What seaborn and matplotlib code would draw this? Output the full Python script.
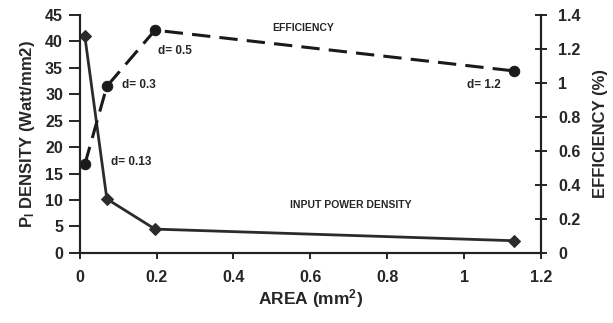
import matplotlib
matplotlib.use("Agg")
import matplotlib.pyplot as plt
import seaborn as sns

# 数据
area = [0.0133, 0.0707, 0.196, 1.131]
power_density = [41.0, 10.2, 4.5, 2.3]
efficiency = [0.52, 0.98, 1.31, 1.07]
d_labels = ["d= 0.13", "d= 0.3", "d= 0.5", "d= 1.2"]

sns.set_style("ticks")
plt.rcParams['font.family'] = ['Liberation Sans', 'DejaVu Sans']
plt.rcParams['font.weight'] = 'bold'
plt.rcParams['mathtext.fontset'] = 'custom'
plt.rcParams['mathtext.rm'] = 'Liberation Sans:bold'
plt.rcParams['mathtext.it'] = 'Liberation Sans:bold'
plt.rcParams['mathtext.bf'] = 'Liberation Sans:bold'

fig = plt.figure(figsize=(6.13, 3.23), dpi=100)
ax = fig.add_axes([0.130, 0.217, 0.7525, 0.737])
ax2 = ax.twinx()

line_col = '#2b2b2b'
sns.lineplot(x=area, y=power_density, ax=ax, color=line_col, lw=2.0,
             marker='D', markersize=6, markeredgecolor=line_col)
sns.lineplot(x=area, y=efficiency, ax=ax2, color='#1a1a1a', lw=2.2,
             linestyle=(0, (6, 3)), marker='o', markersize=7.5,
             markeredgecolor='#1a1a1a')

ax.set_xlim(0, 1.2)
ax.set_ylim(0, 45)
ax2.set_ylim(0, 1.4)
ax.set_xticks([0, 0.2, 0.4, 0.6, 0.8, 1.0, 1.2])
ax.set_xticklabels(['0', '0.2', '0.4', '0.6', '0.8', '1', '1.2'])
ax.set_yticks(range(0, 46, 5))
ax2.set_yticks([0, 0.2, 0.4, 0.6, 0.8, 1.0, 1.2, 1.4])
ax2.set_yticklabels(['0', '0.2', '0.4', '0.6', '0.8', '1', '1.2', '1.4'])

for a in (ax, ax2):
    a.spines['top'].set_visible(False)
    for s in a.spines.values():
        s.set_linewidth(1.5)
        s.set_color('#222222')
ax.tick_params(axis='y', direction='out', length=8, width=1.4, labelsize=11.5, pad=4)
ax.tick_params(axis='x', direction='out', length=4, width=1.4, labelsize=11.5, pad=8)
ax2.tick_params(axis='y', direction='inout', length=9, width=1.4, labelsize=11.5, pad=8)
for lab in ax.get_xticklabels() + ax.get_yticklabels() + ax2.get_yticklabels():
    lab.set_fontweight('heavy')

ax.set_xlabel(r"AREA (mm$^{\mathbf{2}}$)", fontsize=12.5, fontweight='heavy', labelpad=2)
ax.set_ylabel(r"P$_{\mathbf{I}}$ DENSITY (Watt/mm2)", fontsize=12, fontweight='heavy', labelpad=6)
ax2.set_ylabel("EFFICIENCY (%)", fontsize=12, fontweight='heavy', labelpad=9)

# 注释
ax2.text(0.082, 0.535, d_labels[0], fontsize=8.5, fontweight='bold', va='center')
ax2.text(0.110, 0.985, d_labels[1], fontsize=8.5, fontweight='bold', va='center')
ax2.text(0.204, 1.185, d_labels[2], fontsize=8.5, fontweight='bold', va='center')
ax2.text(1.007, 0.99, d_labels[3], fontsize=8.5, fontweight='bold', va='center')
ax2.text(0.50, 1.32, "EFFICIENCY", fontsize=7.5, fontweight='bold', va='center')
ax.text(0.546, 9.1, "INPUT POWER DENSITY", fontsize=7.5, fontweight='bold', va='center')

fig.savefig("out.png", dpi=100)
